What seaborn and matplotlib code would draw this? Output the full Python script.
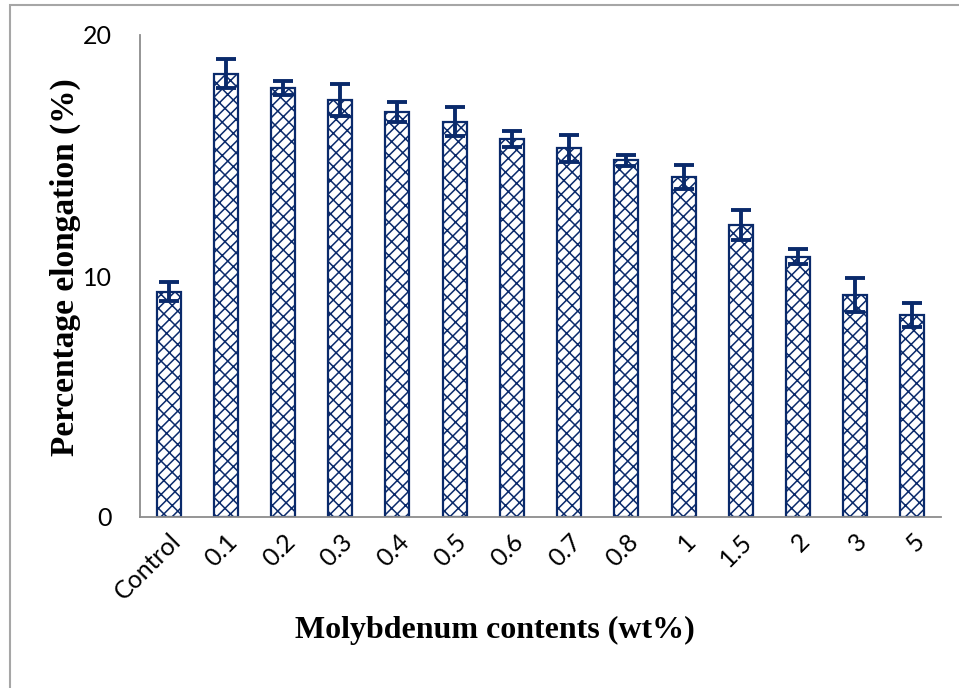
import pandas as pd
import seaborn as sns
import matplotlib.pyplot as plt
import matplotlib as mpl
from matplotlib.patches import Rectangle

# Values
contents = ['Control', '0.1', '0.2', '0.3', '0.4', '0.5', '0.6', '0.7', '0.8', '1', '1.5', '2', '3', '5']
elongation = [9.35, 18.4, 17.8, 17.3, 16.8, 16.4, 15.7, 15.3, 14.8, 14.1, 12.1, 10.8, 9.2, 8.4]
error = [0.4, 0.6, 0.3, 0.65, 0.4, 0.6, 0.33, 0.55, 0.23, 0.5, 0.62, 0.3, 0.7, 0.5]

df = pd.DataFrame({'content': contents, 'elongation': elongation, 'err': error})

navy = '#0a2a6b'
axis_grey = '#8c8c8c'

sns.set_theme(style='white')
mpl.rcParams['hatch.linewidth'] = 1.1
mpl.rcParams['hatch.color'] = navy
mpl.rcParams['font.family'] = ['Lato', 'DejaVu Sans']

fig = plt.figure(figsize=(9.59, 6.88), dpi=100)
ax = fig.add_axes([140 / 959, 1 - 517 / 688, 801 / 959, 482 / 688])

sns.barplot(data=df, x='content', y='elongation', ax=ax, width=0.42,
            color='white', edgecolor=navy, linewidth=1.6, errorbar=None)
for bar in ax.patches:
    bar.set_hatch('///\\\\')

ax.errorbar(range(len(contents)), df['elongation'], yerr=df['err'], fmt='none',
            ecolor=navy, elinewidth=2.8, capsize=7, capthick=2.8, zorder=5)

ax.set_ylim(0, 20)
ax.set_yticks([0, 10, 20])
ax.set_xlim(-0.5, len(contents) - 0.5)

# Excel style: x ticks between categories, labels rotated
ax.set_xticks([i - 0.5 for i in range(len(contents) + 1)], minor=False)
ax.set_xticklabels([''] * (len(contents) + 1))
ax.set_xticks(range(len(contents)), minor=True)
ax.set_xticklabels(contents, minor=True, rotation=45, ha='right', rotation_mode='anchor', fontsize=18, color='black')
ax.tick_params(axis='x', which='minor', length=0, pad=9)
ax.tick_params(axis='x', which='major', length=8, width=1.2, color=axis_grey, direction='out')
ax.tick_params(axis='y', length=8, width=1.2, color=axis_grey, direction='out', labelsize=18,
               labelcolor='black', pad=12)

for s in ['top', 'right']:
    ax.spines[s].set_visible(False)
for s in ['left', 'bottom']:
    ax.spines[s].set_color(axis_grey)
    ax.spines[s].set_linewidth(1.3)

ax.set_xlabel('Molybdenum contents (wt%)', family='Liberation Serif', fontweight='bold', fontsize=23,
              labelpad=14, color='black')
ax.xaxis.set_label_coords(0.443, -0.205)
ax.set_ylabel('Percentage elongation (%)', family='Liberation Serif', fontweight='bold', fontsize=24,
              color='black')
ax.yaxis.set_label_coords(-0.074, 0.519)

# chart frame like the Excel chart area
fig.patches.append(Rectangle((10 / 959, -0.1), 1.2, 1 - 5 / 688 + 0.1, transform=fig.transFigure,
                             fill=False, edgecolor='#a6a6a6', linewidth=1.5))

fig.savefig('out.png', dpi=100, facecolor='white')
